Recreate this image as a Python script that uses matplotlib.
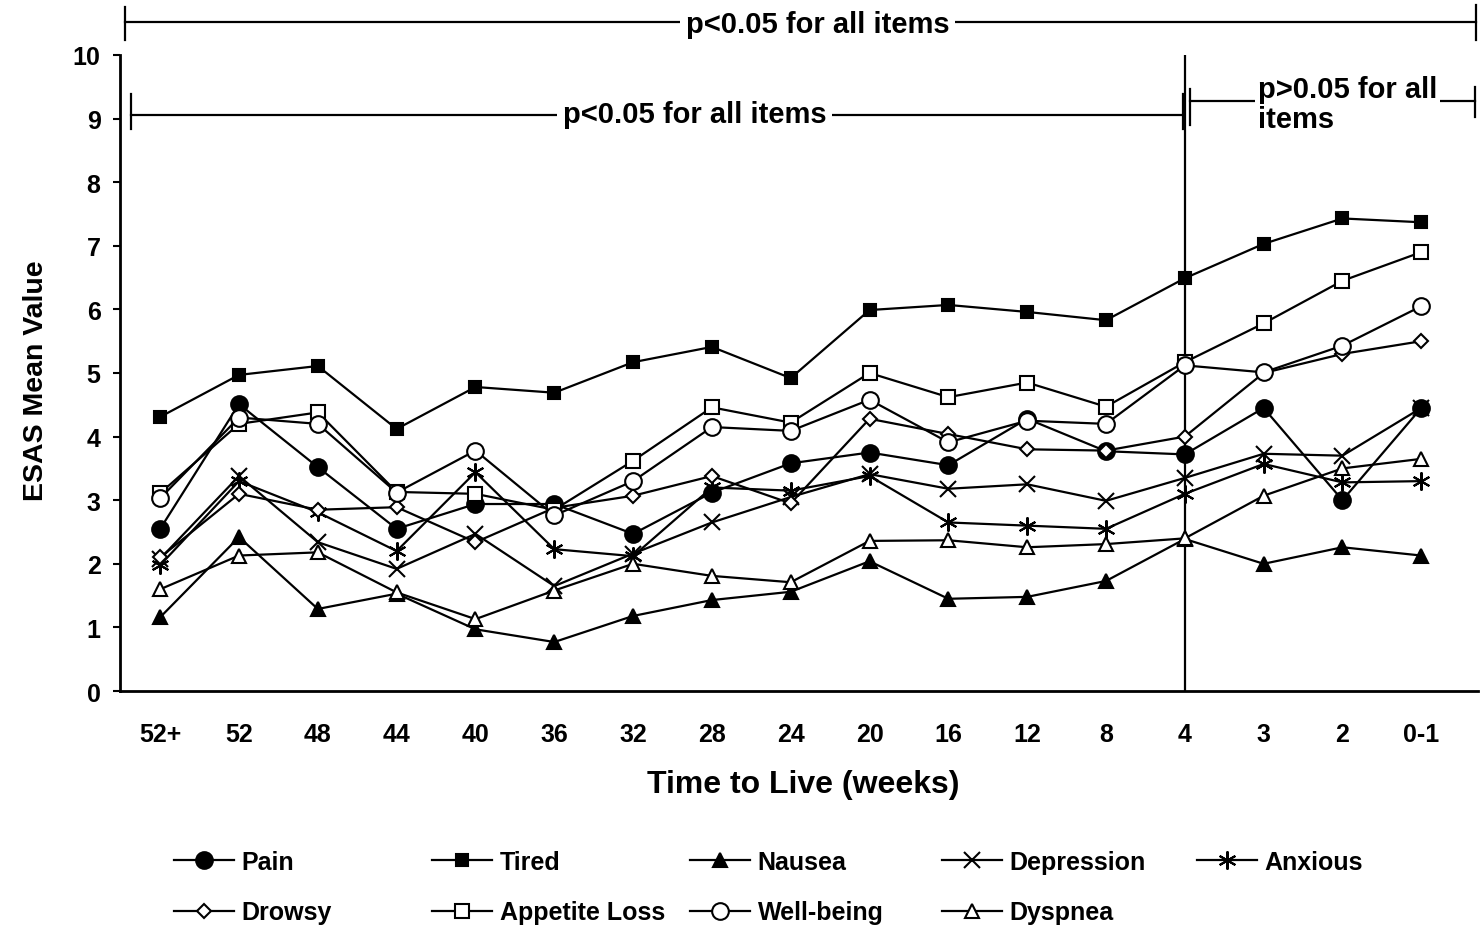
import matplotlib
matplotlib.use("Agg")
import matplotlib.pyplot as plt

plt.rcParams['font.family'] = ['Liberation Sans', 'DejaVu Sans']
plt.rcParams['font.weight'] = 'bold'

# ------- DATA -------
weeks = ["52+", "52", "48", "44", "40", "36", "32", "28", "24",
         "20", "16", "12", "8", "4", "3", "2", "0-1"]

pain = [2.55, 4.51, 3.52, 2.55, 2.94, 2.94, 2.47, 3.12, 3.58, 3.75, 3.55, 4.28, 3.77, 3.72, 4.45, 3.00, 4.45]
tired = [4.31, 4.97, 5.11, 4.12, 4.78, 4.69, 5.17, 5.41, 4.92, 5.99, 6.07, 5.96, 5.83, 6.49, 7.03, 7.43, 7.37]
nausea = [1.16, 2.42, 1.29, 1.53, 0.97, 0.77, 1.18, 1.43, 1.56, 2.04, 1.45, 1.48, 1.73, 2.39, 2.00, 2.26, 2.13]
depression = [2.08, 3.38, 2.34, 1.92, 2.47, 1.65, 2.16, 2.65, 3.05, 3.41, 3.18, 3.25, 2.99, 3.35, 3.73, 3.70, 4.45]
anxious = [1.98, 3.30, 2.81, 2.20, 3.44, 2.23, 2.12, 3.20, 3.15, 3.38, 2.65, 2.60, 2.55, 3.10, 3.57, 3.28, 3.30]
drowsy = [2.10, 3.10, 2.85, 2.89, 2.34, 2.88, 3.07, 3.38, 2.95, 4.28, 4.04, 3.80, 3.78, 4.00, 5.00, 5.30, 5.50]
appetite = [3.11, 4.20, 4.38, 3.13, 3.10, 2.85, 3.62, 4.46, 4.22, 5.00, 4.62, 4.85, 4.47, 5.17, 5.78, 6.45, 6.90]
wellbeing = [3.03, 4.30, 4.20, 3.12, 3.78, 2.76, 3.30, 4.15, 4.09, 4.58, 3.91, 4.25, 4.20, 5.12, 5.01, 5.43, 6.05]
dyspnea = [1.60, 2.13, 2.18, 1.55, 1.13, 1.58, 2.00, 1.81, 1.71, 2.36, 2.37, 2.26, 2.31, 2.40, 3.07, 3.50, 3.65]

# (label, values, marker, size, filled)
series = [
    ("Pain", pain, "o", 12, True),
    ("Tired", tired, "s", 9, True),
    ("Nausea", nausea, "^", 10, True),
    ("Depression", depression, "x", 11, False),
    ("Anxious", anxious, (6, 2, 0), 13, False),
    ("Drowsy", drowsy, "D", 7, False),
    ("Appetite Loss", appetite, "s", 10, False),
    ("Well-being", wellbeing, "o", 12, False),
    ("Dyspnea", dyspnea, "^", 10, False),
]

fig = plt.figure(figsize=(14.8, 9.29), dpi=100)
ax = fig.add_axes([120 / 1480, 1 - 692 / 929, 1358 / 1480, 636 / 929])

x = list(range(len(weeks)))
handles = {}
for label, vals, mk, ms, filled in series:
    h, = ax.plot(x, vals, color="black", lw=1.6, marker=mk, markersize=ms,
                 markerfacecolor="black" if filled else "white",
                 markeredgecolor="black", markeredgewidth=1.5, label=label,
                 zorder=3)
    handles[label] = h

# vertical line at 4 weeks
ax.plot([13, 13], [0, 10], color="black", lw=1.6, zorder=2)

ax.set_xlim(-0.51, 16.72)
ax.set_ylim(0, 10)
ax.set_xticks(x)
ax.set_xticklabels(weeks)
ax.set_yticks(range(11))
ax.tick_params(axis="x", length=0, pad=22, labelsize=18)
ax.tick_params(axis="y", length=5, width=1.5, pad=9, labelsize=18)
for s in ["top", "right"]:
    ax.spines[s].set_visible(False)
ax.spines["left"].set_linewidth(2)
ax.spines["bottom"].set_linewidth(2)

ax.set_xlabel("Time to Live (weeks)", fontsize=23, fontweight="bold")
ax.set_ylabel("ESAS Mean Value", fontsize=20.5, fontweight="bold")
ax.xaxis.set_label_coords(0.503, -0.123)
ax.yaxis.set_label_coords(-0.052, 0.49)

# ------- SIGNIFICANCE BRACKETS -------
kw = dict(color="black", lw=1.6, clip_on=False)
tbox = dict(facecolor="white", edgecolor="none", pad=4)

# top bracket
ax.plot([-0.444, 16.70], [10.52, 10.52], **kw)
ax.plot([-0.444, -0.444], [10.24, 10.76], **kw)
ax.plot([16.70, 16.70], [10.24, 10.78], **kw)
ax.text(8.34, 10.48, "p<0.05 for all items", ha="center", va="center",
        fontsize=21, fontweight="bold", bbox=tbox, zorder=5)

# lower left bracket
ax.plot([-0.37, 12.98], [9.06, 9.06], **kw)
ax.plot([-0.37, -0.37], [8.84, 9.39], **kw)
ax.plot([12.98, 12.98], [8.84, 9.39], **kw)
ax.text(6.78, 9.07, "p<0.05 for all items", ha="center", va="center",
        fontsize=21, fontweight="bold", bbox=tbox, zorder=5)

# lower right bracket
ax.plot([13.07, 16.68], [9.28, 9.28], **kw)
ax.plot([13.07, 13.07], [8.9, 9.47], **kw)
ax.plot([16.68, 16.68], [9.03, 9.5], **kw)
ax.text(13.93, 9.23, "p>0.05 for all\nitems", ha="left", va="center",
        fontsize=21, fontweight="bold", linespacing=1.12,
        bbox=dict(facecolor="white", edgecolor="none", pad=2), zorder=5)

# ------- LEGEND (five columns) -------
columns = [["Pain", "Drowsy"], ["Tired", "Appetite Loss"],
           ["Nausea", "Well-being"], ["Depression", "Dyspnea"], ["Anxious"]]
col_x = [174, 432, 690, 942, 1197]
for cx, labels in zip(col_x, columns):
    fig.legend([handles[l] for l in labels], labels,
               loc="upper left", bbox_to_anchor=(cx / 1480, 1 - 851 / 929),
               frameon=False, fontsize=18, handlelength=2.4,
               handletextpad=0.3, labelspacing=1.05, borderpad=0,
               borderaxespad=0, numpoints=1)

fig.savefig("out.png", dpi=100, facecolor="white")
